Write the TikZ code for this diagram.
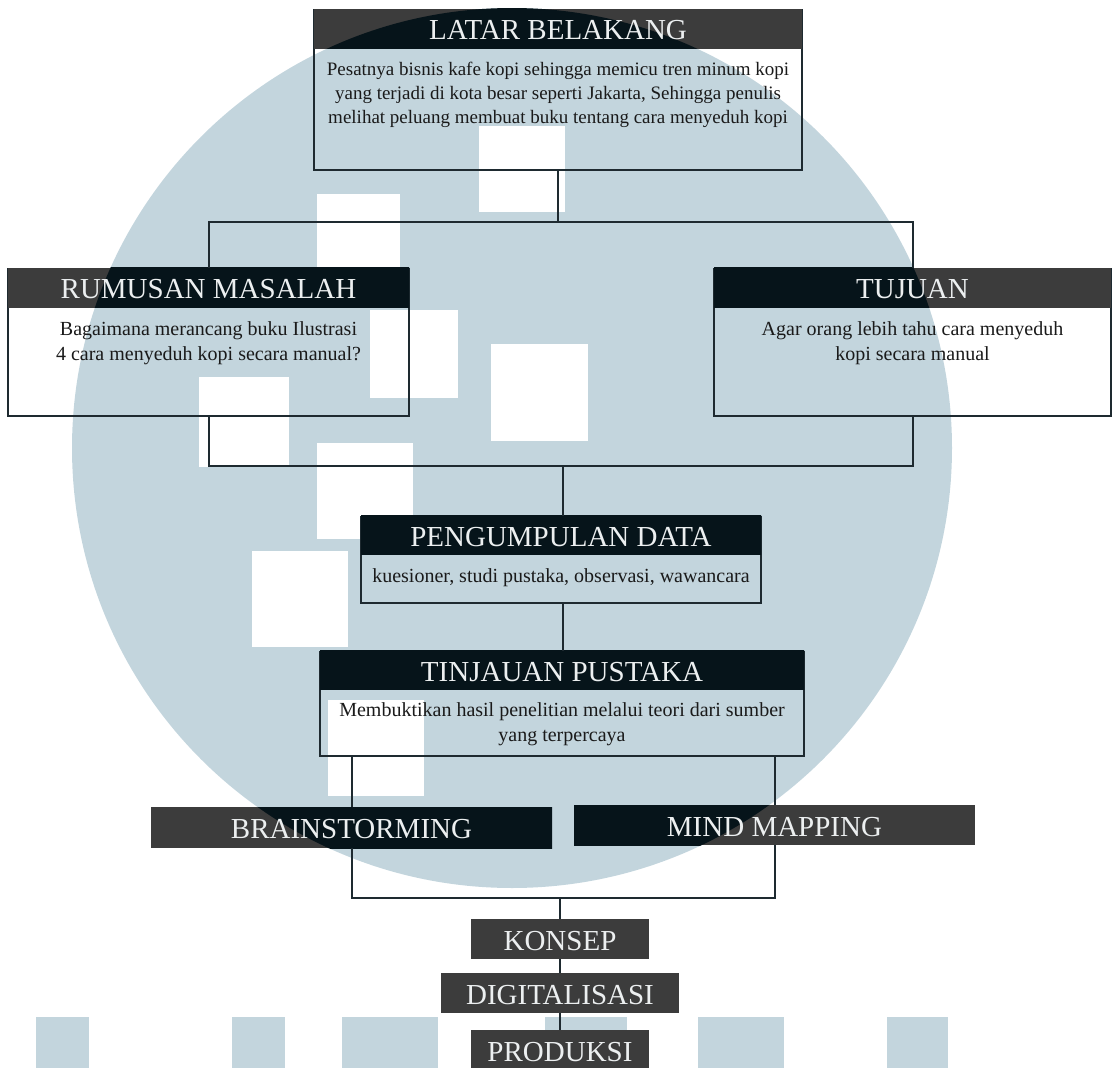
\documentclass[tikz,border=0pt]{standalone}
\usepackage{fontspec}
\setmainfont{Liberation Serif}
\usepackage{xcolor}
\usetikzlibrary{positioning,calc}
\definecolor{umnbiru}{HTML}{C3D5DD}
\definecolor{kepala}{HTML}{3C3C3C}
\definecolor{kepalagelap}{HTML}{06141A}
\definecolor{garis}{HTML}{1E2A30}
\definecolor{teksputih}{HTML}{ECEFF0}
\definecolor{teksisi}{HTML}{1A1A1A}
\newcommand{\judulfont}{\fontsize{29}{34}\selectfont}
\newcommand{\isifont}{\fontsize{20}{25}\selectfont}

\begin{document}
\begin{tikzpicture}[x=1pt, y=-1pt,
  judul/.style={rectangle, fill=kepala, text=teksputih, font=\judulfont,
    inner sep=0pt, minimum height=40pt, text height=22pt, text depth=0pt,
    path picture={\fill[kepalagelap] (pusat) circle (440pt);}},
  kotak/.style={rectangle, draw=garis, line width=2.5pt, inner sep=0pt},
  isi/.style={align=center, font=\isifont, text=teksisi, inner sep=0pt},
  hubung/.style={draw=garis, line width=2pt}]
  \useasboundingbox (0,0) rectangle (1112,1068);

  % Watermark behind the chart
  \coordinate (pusat) at (512,448);
  \fill[umnbiru] (pusat) circle (440pt);
  \foreach \x/\y/\w in {479/126/86, 317/194/83, 370/310/88, 491/344/97,
                        199/377/90, 317/443/96, 252/551/96, 328/700/96} {
    \fill[white] (\x,\y) rectangle ++(\w,\w);
  }
  \foreach \x/\w in {36/53, 232/53, 342/96, 545/82, 698/86, 887/61} {
    \fill[umnbiru] (\x,1017) rectangle ++(\w,60);
  }

  % Latar belakang
  \node[kotak, minimum width=488pt, minimum height=160pt] (latar) at (558,90) {};
  \node[judul, minimum width=488pt, anchor=north] (latarjudul) at (latar.north) {LATAR BELAKANG};
  \node[isi, font=\fontsize{19}{24}\selectfont, below=13pt of latarjudul] (latarisi)
    {Pesatnya bisnis kafe kopi sehingga memicu tren minum kopi\\
     yang terjadi di kota besar seperti Jakarta, Sehingga penulis\\
     melihat peluang membuat buku tentang cara menyeduh kopi};

  % Rumusan masalah dan tujuan
  \node[kotak, minimum width=401pt, minimum height=147pt] (rumusan) at (208.5,342.5) {};
  \node[judul, minimum width=401pt, anchor=north] (rumusanjudul) at (rumusan.north) {RUMUSAN MASALAH};
  \node[isi, below=13pt of rumusanjudul] (rumusanisi)
    {Bagaimana merancang buku Ilustrasi\\ 4 cara menyeduh kopi secara manual?};

  \node[kotak, minimum width=397pt, minimum height=147pt] (tujuan) at (912.5,342.5) {};
  \node[judul, minimum width=397pt, anchor=north] (tujuanjudul) at (tujuan.north) {TUJUAN};
  \node[isi, below=13pt of tujuanjudul] (tujuanisi)
    {Agar orang lebih tahu cara menyeduh\\ kopi secara manual};

  % Pengumpulan data
  \node[kotak, minimum width=400pt, minimum height=86pt] (pengumpulan) at (561,560) {};
  \node[judul, minimum width=400pt, minimum height=39pt, anchor=north] (pengumpulanjudul) at (pengumpulan.north) {PENGUMPULAN DATA};
  \node[isi, below=13pt of pengumpulanjudul] (pengumpulanisi)
    {kuesioner, studi pustaka, observasi, wawancara};

  % Tinjauan pustaka
  \node[kotak, minimum width=484pt, minimum height=104pt] (tinjauan) at (562,704) {};
  \node[judul, minimum width=484pt, minimum height=39pt, anchor=north] (tinjauanjudul) at (tinjauan.north) {TINJAUAN PUSTAKA};
  \node[isi, below=12pt of tinjauanjudul] (tinjauanisi)
    {Membuktikan hasil penelitian melalui teori dari sumber\\ yang terpercaya};

  % Tahap akhir
  \node[judul, minimum width=401pt, minimum height=41pt] (brainstorming) at (351.5,827.5) {BRAINSTORMING};
  \node[judul, minimum width=401pt, minimum height=40pt] (mindmap) at (774.5,825) {MIND MAPPING};
  \node[judul, minimum width=178pt] (konsep) at (560,939) {KONSEP};
  \node[judul, minimum width=238pt] (digitalisasi) at (560,993) {DIGITALISASI};
  \node[judul, minimum width=178pt] (produksi) at (560,1050) {PRODUKSI};

  % Connectors
  \coordinate (cabangatas) at (558,222);
  \coordinate (cabangbawah) at (563,466);
  \coordinate (cabangakhir) at (560,898);
  \draw[hubung] (latar.south) -- (cabangatas);
  \draw[hubung] (rumusan.north) |- (cabangatas) -| (tujuan.north);
  \draw[hubung] (rumusan.south) |- (cabangbawah) -| (tujuan.south);
  \draw[hubung] (cabangbawah) -- (cabangbawah |- pengumpulan.north);
  \draw[hubung] (cabangbawah |- pengumpulan.south) -- (cabangbawah |- tinjauan.north);
  \draw[hubung] (tinjauan.south -| brainstorming.north) -- (brainstorming.north);
  \draw[hubung] (tinjauan.south -| mindmap.north) -- (mindmap.north);
  \draw[hubung] (brainstorming.south) |- (cabangakhir) -| (mindmap.south);
  \draw[hubung] (cabangakhir) -- (konsep.north);
  \draw[hubung] (konsep) -- (digitalisasi);
  \draw[hubung] (digitalisasi) -- (produksi);
\end{tikzpicture}
\end{document}
